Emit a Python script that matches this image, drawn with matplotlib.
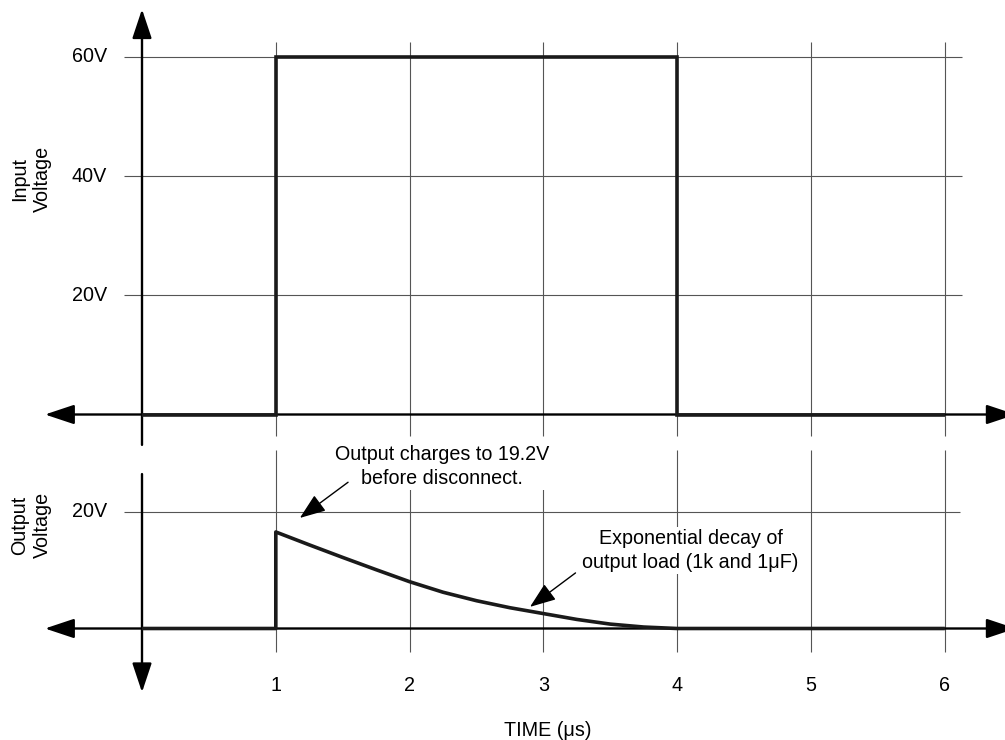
import matplotlib
matplotlib.use("Agg")
import matplotlib.pyplot as plt

plt.rcParams["font.family"] = ["Liberation Sans", "DejaVu Sans"]

# ------------------------------------------------------
# DATA
# ------------------------------------------------------
time_ticks = [1, 2, 3, 4, 5, 6]
time_labels = ["1", "2", "3", "4", "5", "6"]

in_ticks = [20, 40, 60]
in_labels = ["20V", "40V", "60V"]
out_ticks = [20]
out_labels = ["20V"]

t_in = [0, 1, 1, 4, 4, 6]
v_in = [0, 0, 60, 60, 0, 0]

t_out = [0, 1, 1, 1.25, 1.5, 1.75, 2.0, 2.25, 2.5, 2.75, 3.0, 3.25, 3.5, 3.75, 4.0, 6]
v_out = [0, 0, 16.5, 14.3, 12.15, 10.05, 8.0, 6.2, 4.75, 3.55, 2.55, 1.55, 0.75, 0.25, 0, 0]

note_charge = "Output charges to 19.2V\nbefore disconnect."
note_decay = "Exponential decay of\noutput load (1k and 1\u03bcF)"

FS = 14.2
LS = 1.3
GRID = dict(color="#555555", lw=0.8)
AXIS_LW = 1.7
SIG_LW = 2.6

fig = plt.figure(figsize=(10.05, 7.4), dpi=100)

# top panel covers pixel rows 0..450, bottom 450..740
ax_in = fig.add_axes([0, 290 / 740, 1, 450 / 740])
ax_out = fig.add_axes([0, 0, 1, 290 / 740])

xlim = (-142 / 133.8, (1005 - 142) / 133.8)
ax_in.set_xlim(*xlim)
ax_in.set_ylim((414.5 - 450) / 5.96, 414.5 / 5.96)
ax_out.set_xlim(*xlim)
ax_out.set_ylim((628.5 - 740) / 5.85, (628.5 - 450) / 5.85)

for ax in (ax_in, ax_out):
    ax.axis("off")


def axis_arrow(ax, start, end, style="-|>"):
    ax.annotate("", xy=end, xytext=start, annotation_clip=False,
                arrowprops=dict(arrowstyle=f"{style},head_length=1.8,head_width=0.6",
                                color="black", lw=AXIS_LW, mutation_scale=10,
                                shrinkA=0, shrinkB=0))


# ======================================================
# INPUT PANEL
# ======================================================
ax_in.vlines(time_ticks, -3.6, 62.5, **GRID, zorder=1)
ax_in.hlines(in_ticks, -0.135, 6.13, **GRID, zorder=1)
axis_arrow(ax_in, (-0.725, 0), (6.53, 0), style="<|-|>")
axis_arrow(ax_in, (0, -5.1), (0, 68.0))
ax_in.plot(t_in, v_in, color="#1a1a1a", lw=SIG_LW, zorder=3,
           solid_joinstyle="miter", solid_capstyle="butt")
for v, lab in zip(in_ticks, in_labels):
    ax_in.text(-0.26, v, lab, ha="right", va="center", fontsize=FS)
ax_in.text(-0.83, 39.5, "Input\nVoltage", rotation=90, ha="center", va="center",
           fontsize=FS, linespacing=LS)

# ======================================================
# OUTPUT PANEL
# ======================================================
ax_out.vlines(time_ticks, -4.0, 30.5, **GRID, zorder=1)
ax_out.hlines(out_ticks, -0.135, 6.11, **GRID, zorder=1)
axis_arrow(ax_out, (-0.725, 0), (6.53, 0), style="<|-|>")
axis_arrow(ax_out, (0, 26.4), (0, -10.9))
ax_out.plot(t_out, v_out, color="#1a1a1a", lw=SIG_LW, zorder=3,
            solid_joinstyle="round", solid_capstyle="butt")
for v, lab in zip(out_ticks, out_labels):
    ax_out.text(-0.26, v, lab, ha="right", va="center", fontsize=FS)
ax_out.text(-0.83, 17.7, "Output\nVoltage", rotation=90, ha="center", va="center",
            fontsize=FS, linespacing=LS)

for t, lab in zip(time_ticks, time_labels):
    ax_out.text(t, -9.8, lab, ha="center", va="center", fontsize=FS)
ax_out.text(3.03, -17.4, "TIME (\u03bcs)", ha="center", va="center", fontsize=FS)

box = dict(facecolor="white", edgecolor="none", pad=1.5)
ax_out.text(2.24, 27.7, note_charge, ha="center", va="center", fontsize=FS,
            linespacing=LS, bbox=box, zorder=4)
ax_out.text(4.10, 13.3, note_decay, ha="center", va="center", fontsize=FS,
            linespacing=LS, bbox=box, zorder=4)

note_arrow = dict(arrowstyle="-|>,head_length=1.6,head_width=0.6", color="black",
                  lw=1.0, mutation_scale=10, shrinkA=0, shrinkB=0)
ax_out.annotate("", xy=(1.18, 18.9), xytext=(1.54, 25.0), arrowprops=note_arrow, zorder=5)
ax_out.annotate("", xy=(2.90, 3.7), xytext=(3.24, 9.5), arrowprops=note_arrow, zorder=5)

fig.savefig("out.png", dpi=100)
